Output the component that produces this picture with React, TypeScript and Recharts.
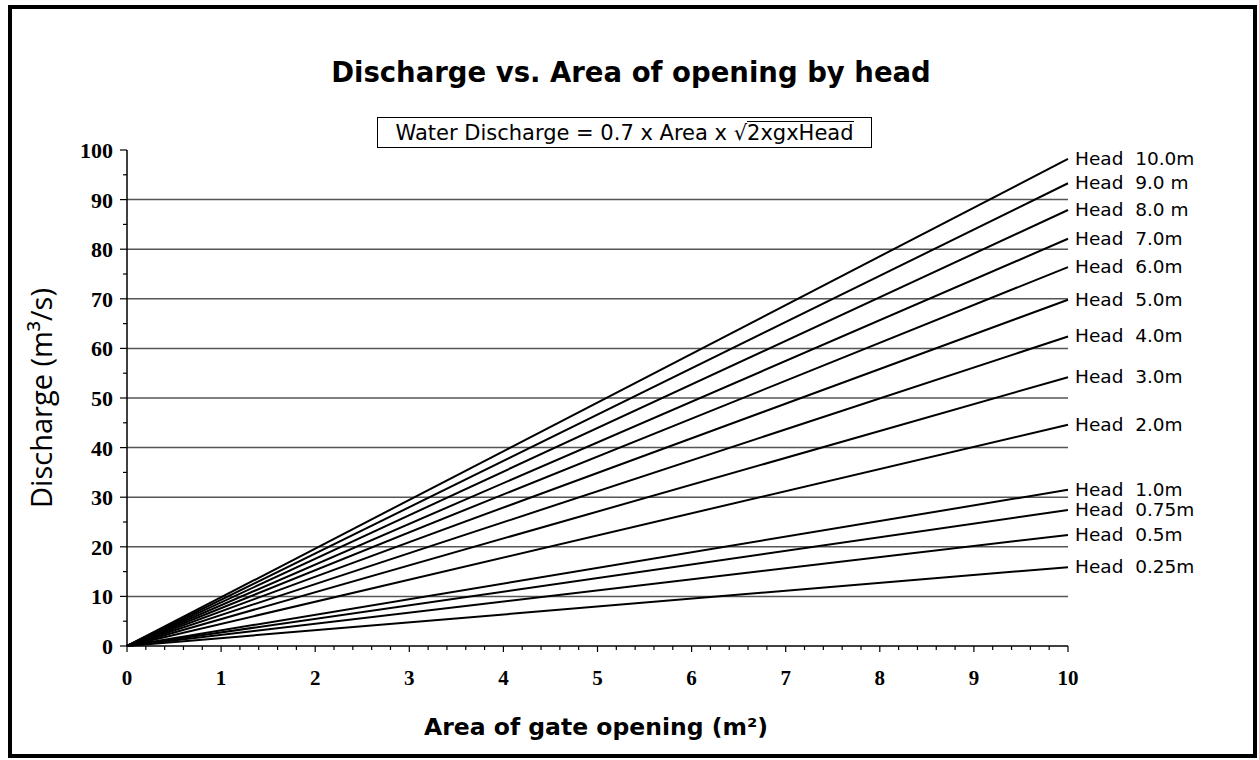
import { LineChart, Line, XAxis, YAxis, ReferenceLine, LabelList } from 'recharts';

// head names as printed next to each line
const headLabels = [
  '10.0m', '9.0 m', '8.0 m', '7.0m', '6.0m', '5.0m', '4.0m',
  '3.0m', '2.0m', '1.0m', '0.75m', '0.5m', '0.25m',
];
// discharge read at area = 10 m² (every line starts at the origin)
const dischargeAt10 = [98.2, 93.3, 87.9, 82.1, 76.4, 69.8, 62.4, 54.2, 44.6, 31.5, 27.4, 22.4, 15.9];
const areas = [0, 10];
const startValues = [0, 0, 0, 0, 0, 0, 0, 0, 0, 0, 0, 0, 0];

const xMajorTicks = [0, 1, 2, 3, 4, 5, 6, 7, 8, 9, 10];
const yMajorTicks = [0, 10, 20, 30, 40, 50, 60, 70, 80, 90, 100];
const gridValues = [10, 20, 30, 40, 50, 60, 70, 80, 90];

const xTicks = Array.from({ length: 51 }, (_, i) => Math.round(i * 2) / 10);
const yTicks = Array.from({ length: 21 }, (_, i) => i * 5);

const keys = headLabels.map((_, i) => `h${i}`);
const data = areas.map((area, r) => {
  const row: Record<string, number> = { area };
  keys.forEach((k, i) => {
    row[k] = r === 0 ? startValues[i] : dischargeAt10[i];
  });
  return row;
});

const XTick = ({ x, y, payload }: any) => {
  const v = payload.value;
  const major = xMajorTicks.includes(v);
  return (
    <g>
      <line x1={x} x2={x} y1={y} y2={y + (major ? 6 : 4)} stroke="#000" strokeWidth={1.2} />
      {major && (
        <text x={x} y={y + 39} textAnchor="middle" fontFamily="Liberation Serif" fontWeight="bold" fontSize={21} fill="#000">
          {v}
        </text>
      )}
    </g>
  );
};

const YTick = ({ x, y, payload }: any) => {
  const v = payload.value;
  const major = yMajorTicks.includes(v);
  return (
    <g>
      <line x1={x - (major ? 7 : 4)} x2={x} y1={y} y2={y} stroke="#000" strokeWidth={1.2} />
      {major && (
        <text x={x - 14} y={y + 8} textAnchor="end" fontFamily="Liberation Serif" fontWeight="bold" fontSize={22} fill="#000">
          {v}
        </text>
      )}
    </g>
  );
};

const headLabel = (name: string) => (props: any) => {
  const { x, y, index } = props;
  if (index !== areas.length - 1) return null;
  return (
    <text x={x + 7} y={y + 6} fontFamily="DejaVu Sans" fontSize={18.5} fill="#000" style={{ whiteSpace: 'pre' }}>
      {`Head  ${name}`}
    </text>
  );
};

export default function App() {
  return (
    <div style={{ position: 'absolute', left: 0, top: 0, width: 1259, height: 760, background: '#fff' }}>
      <LineChart width={1259} height={760} data={data} margin={{ top: 150, right: 191, bottom: 74, left: 67 }}>
        {gridValues.map(g => (
          <ReferenceLine key={g} y={g} stroke="#555" strokeWidth={1.5} />
        ))}
        <XAxis
          dataKey="area"
          type="number"
          domain={[0, 10]}
          ticks={xTicks}
          interval={0}
          height={40}
          tickSize={0}
          tickMargin={0}
          tickLine={false}
          axisLine={{ stroke: '#000', strokeWidth: 1.5 }}
          tick={<XTick />}
        />
        <YAxis
          type="number"
          domain={[0, 100]}
          ticks={yTicks}
          interval={0}
          width={60}
          tickSize={0}
          tickMargin={0}
          tickLine={false}
          axisLine={{ stroke: '#000', strokeWidth: 1.5 }}
          tick={<YTick />}
        />
        {keys.map((k, i) => (
          <Line
            key={k}
            dataKey={k}
            type="linear"
            stroke="#000"
            strokeWidth={2}
            dot={false}
            isAnimationActive={false}
          >
            <LabelList dataKey={k} content={headLabel(headLabels[i])} />
          </Line>
        ))}
      </LineChart>

      <svg width={1259} height={760} style={{ position: 'absolute', left: 0, top: 0, pointerEvents: 'none' }}>
        <rect x={10} y={7} width={1245} height={749} fill="none" stroke="#000" strokeWidth={4} />
        <text x={631} y={82} textAnchor="middle" fontFamily="DejaVu Sans" fontWeight="bold" fontSize={27.5} fill="#000">
          Discharge vs. Area of opening by head
        </text>
        <text x={596} y={735} textAnchor="middle" fontFamily="DejaVu Sans" fontWeight="bold" fontSize={23.5} fill="#000">
          Area of gate opening (m²)
        </text>
        <text x={52} y={398} transform="rotate(-90 52 398)" textAnchor="middle" fontFamily="Open Sans" fontSize={29} fill="#000">
          Discharge (m³/s)
        </text>
      </svg>

      <div
        style={{
          position: 'absolute',
          left: 377,
          top: 117,
          width: 495,
          height: 31,
          boxSizing: 'border-box',
          border: '1.5px solid #000',
          display: 'flex',
          alignItems: 'center',
          justifyContent: 'center',
          fontFamily: 'DejaVu Sans',
          fontSize: 21,
          whiteSpace: 'pre',
        }}
      >
        <span>Water Discharge = 0.7 x Area x </span>
        <span>√</span>
        <span style={{ borderTop: '1.5px solid #000', lineHeight: '22px' }}>2xgxHead</span>
      </div>
    </div>
  );
}
